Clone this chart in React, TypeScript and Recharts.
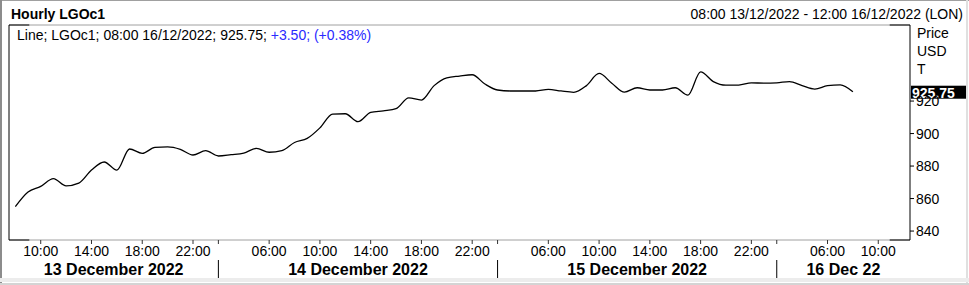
import { LineChart, Line, XAxis, YAxis, ReferenceLine } from 'recharts';

// trading hours shown per day (London time)
const hours13 = ["08:00", "09:00", "10:00", "11:00", "12:00", "13:00", "14:00", "15:00", "16:00", "17:00", "18:00", "19:00", "20:00", "21:00", "22:00", "23:00"];
const hours14 = ["02:00", "03:00", "04:00", "05:00", "06:00", "07:00", "08:00", "09:00", "10:00", "11:00", "12:00", "13:00", "14:00", "15:00", "16:00", "17:00", "18:00", "19:00", "20:00", "21:00", "22:00", "23:00"];
const hours15 = ["02:00", "03:00", "04:00", "05:00", "06:00", "07:00", "08:00", "09:00", "10:00", "11:00", "12:00", "13:00", "14:00", "15:00", "16:00", "17:00", "18:00", "19:00", "20:00", "21:00", "22:00", "23:00"];
const hours16 = ["02:00", "03:00", "04:00", "05:00", "06:00", "07:00", "08:00", "09:00", "10:00", "11:00", "12:00"];
const dayLabels = ["13 December 2022", "14 December 2022", "15 December 2022", "16 Dec 22"];

const price = [
  855.0, 864.0, 867.5, 872.3, 867.8, 869.5, 877.5, 882.5, 877.5, 890.5, 887.8, 891.5, 891.8, 890.3, 886.8, 889.5,
  886.2, 887.0, 888.0, 890.9, 888.5, 889.5, 894.5, 897.0, 903.5, 912.0, 912.2, 907.3, 913.0, 914.0, 915.3, 922.0,
  920.6, 929.5, 934.3, 935.4, 936.2, 930.5,
  926.8, 926.2, 926.2, 926.2, 927.2, 926.2, 925.4, 929.5, 937.0, 931.0, 925.5, 928.2, 926.8, 926.8, 928.2, 923.7,
  938.0, 932.0, 929.8, 929.8, 931.2, 931.0,
  931.2, 932.0, 929.5, 927.4, 929.5, 930.0, 925.75,
];

const yTicks = [840, 860, 880, 900, 920];
const labelledHours = ["02:00", "06:00", "10:00", "14:00", "18:00", "22:00"];
const yMin = 834.5;
const yMax = 966.8;

const days = [hours13, hours14, hours15, hours16];
const data = days
  .flatMap((hrs, d) => hrs.map((h) => ({ day: d, hour: h })))
  .map((r, i) => ({ ...r, i, price: i < price.length ? price[i] : null }));

const xMin = -0.5;
const xMax = data.length - 0.5;
const hourTicks = data.filter((r) => labelledHours.includes(r.hour)).map((r) => r.i);
const dayStarts = days.map((_, d) => data.findIndex((r) => r.day === d));
const dayEdges = dayStarts.map((s, d) => (d === 0 ? xMin : s));
const dayMids = dayEdges.map((s, d) => (s + (d < dayEdges.length - 1 ? dayEdges[d + 1] : xMax)) / 2);
const separators = dayStarts.slice(1);
const last = price[price.length - 1];

const FONT = '"Liberation Sans", Arial, sans-serif';

const DayTick = (props: any) => {
  const { x, y, payload } = props;
  if (separators.includes(payload.value)) {
    return <line x1={x} x2={x} y1={y + 2} y2={y + 20} stroke="#000" strokeWidth={1} />;
  }
  const d = dayMids.indexOf(payload.value);
  return (
    <text x={x} y={y + 11} textAnchor="middle" dominantBaseline="central" fontFamily={FONT}
      fontWeight="bold" fontSize={16} fill="#000">
      {dayLabels[d]}
    </text>
  );
};

const LastLabel = (props: any) => {
  const { viewBox } = props;
  const x = viewBox.x + viewBox.width + 1;
  const y = viewBox.y;
  return (
    <g>
      <rect x={x} y={y - 6} width={55} height={13} fill="#000" />
      <text x={x + 1} y={y + 1} dominantBaseline="central" fontFamily={FONT} fontWeight="bold"
        fontSize={14} fill="#fff">
        {last.toFixed(2)}
      </text>
    </g>
  );
};

export default function App() {
  const corner = 1.6;
  return (
    <div style={{ position: 'absolute', left: 0, top: 0, width: 969, height: 285, background: '#fff', fontFamily: FONT, overflow: 'hidden' }}>
      <div style={{ position: 'absolute', left: 0, top: 0, width: 969, height: 1, background: '#a0a0a0' }} />
      <div style={{ position: 'absolute', left: 0, top: 0, width: 2, height: 285, background: '#8c8c8c' }} />
      <div style={{ position: 'absolute', left: 966, top: 0, width: 2, height: 285, background: '#e0e0e0' }} />
      <div style={{ position: 'absolute', left: 0, top: 278, width: 969, height: 4, background: '#ececec' }} />
      <div style={{ position: 'absolute', left: 0, top: 283, width: 969, height: 2, background: '#d4d4d4' }} />

      <LineChart width={969} height={285} data={data} margin={{ top: 25, right: 0, left: 9, bottom: 0 }}
        style={{ position: 'absolute', left: 0, top: 0 }}>
        <XAxis dataKey="i" type="number" domain={[xMin, xMax]} ticks={hourTicks} interval={0}
          height={18} tickSize={4} tickMargin={2} axisLine={false}
          tickLine={{ stroke: '#333' }}
          tick={{ fontSize: 14, fill: '#000', fontFamily: FONT }}
          tickFormatter={(v: number) => (data[v].hour === '02:00' ? '' : data[v].hour)} />
        <XAxis xAxisId="day" dataKey="i" type="number" domain={[xMin, xMax]}
          ticks={[...separators, ...dayMids]} interval={0} height={27} tickSize={0} tickMargin={0}
          axisLine={false} tickLine={false} tick={<DayTick />} />
        <YAxis orientation="right" domain={[yMin, yMax]} ticks={yTicks} interval={0} width={59}
          tickSize={4} tickMargin={2} axisLine={{ stroke: '#000' }} tickLine={{ stroke: '#000' }}
          tick={{ fontSize: 14, fill: '#000', fontFamily: FONT }} />

        <ReferenceLine y={yMax} stroke="#a0a0a0" ifOverflow="visible" />
        <ReferenceLine y={yMin} stroke="#a0a0a0" ifOverflow="visible" />
        <ReferenceLine x={xMin} stroke="#000" ifOverflow="visible" />
        <ReferenceLine segment={[{ x: xMin, y: yMax }, { x: xMin + corner, y: yMax }]} stroke="#000" ifOverflow="visible" />
        <ReferenceLine segment={[{ x: xMin, y: yMin }, { x: xMin + corner, y: yMin }]} stroke="#000" ifOverflow="visible" />
        <ReferenceLine segment={[{ x: xMax - corner, y: yMax }, { x: xMax, y: yMax }]} stroke="#000" ifOverflow="visible" />
        <ReferenceLine segment={[{ x: xMax - corner, y: yMin }, { x: xMax, y: yMin }]} stroke="#000" ifOverflow="visible" />

        <Line type="monotone" dataKey="price" stroke="#000" strokeWidth={1.3} dot={false}
          connectNulls={false} isAnimationActive={false} />

        <ReferenceLine y={last} stroke="none" ifOverflow="visible" label={<LastLabel />} />
      </LineChart>

      <div style={{ position: 'absolute', left: 11, top: 5, fontSize: 14, fontWeight: 'bold', lineHeight: '18px', color: '#000' }}>
        Hourly LGOc1
      </div>
      <div style={{ position: 'absolute', right: 6, top: 5, fontSize: 14, lineHeight: '18px', color: '#000' }}>
        08:00 13/12/2022 - 12:00 16/12/2022 (LON)
      </div>
      <div style={{ position: 'absolute', left: 17, top: 26, fontSize: 14, lineHeight: '18px', color: '#000', whiteSpace: 'nowrap' }}>
        Line; LGOc1; 08:00 16/12/2022; 925.75; <span style={{ color: '#2a2aff' }}>+3.50; (+0.38%)</span>
      </div>
      <div style={{ position: 'absolute', left: 917, top: 24, fontSize: 14, lineHeight: '18px', color: '#000' }}>
        Price<br />USD<br />T
      </div>
    </div>
  );
}
